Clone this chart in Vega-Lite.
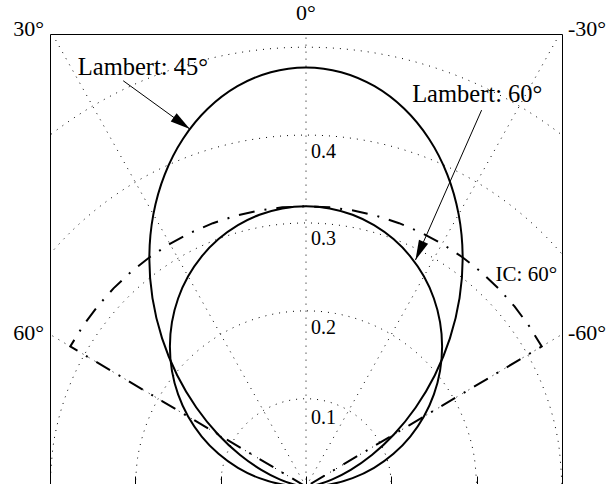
{
  "$schema": "https://vega.github.io/schema/vega-lite/v6.json",
  "width": 512,
  "height": 450,
  "padding": {"left": 50, "top": 34, "right": 47, "bottom": 0},
  "autosize": {"type": "none"},
  "background": "white",
  "config": {"view": {"stroke": null}, "font": "Liberation Serif"},
  "resolve": {"axis": {"x": "independent", "y": "independent"}},
  "datasets": {
    "circles": [
      {"r": 0.1, "x": -0.1, "y": 0}, {"r": 0.1, "x": -0.0985, "y": 0.0174}, {"r": 0.1, "x": -0.094, "y": 0.0342}, {"r": 0.1, "x": -0.0866, "y": 0.05}, {"r": 0.1, "x": -0.0766, "y": 0.0643}, {"r": 0.1, "x": -0.0643, "y": 0.0766}, {"r": 0.1, "x": -0.05, "y": 0.0866}, {"r": 0.1, "x": -0.0342, "y": 0.094}, {"r": 0.1, "x": -0.0174, "y": 0.0985}, {"r": 0.1, "x": 0, "y": 0.1}, {"r": 0.1, "x": 0.0174, "y": 0.0985}, {"r": 0.1, "x": 0.0342, "y": 0.094}, {"r": 0.1, "x": 0.05, "y": 0.0866}, {"r": 0.1, "x": 0.0643, "y": 0.0766}, {"r": 0.1, "x": 0.0766, "y": 0.0643}, {"r": 0.1, "x": 0.0866, "y": 0.05}, {"r": 0.1, "x": 0.094, "y": 0.0342}, {"r": 0.1, "x": 0.0985, "y": 0.0174}, {"r": 0.1, "x": 0.1, "y": 0},
      {"r": 0.2, "x": -0.2, "y": 0}, {"r": 0.2, "x": -0.197, "y": 0.0347}, {"r": 0.2, "x": -0.1879, "y": 0.0684}, {"r": 0.2, "x": -0.1732, "y": 0.1}, {"r": 0.2, "x": -0.1532, "y": 0.1286}, {"r": 0.2, "x": -0.1286, "y": 0.1532}, {"r": 0.2, "x": -0.1, "y": 0.1732}, {"r": 0.2, "x": -0.0684, "y": 0.1879}, {"r": 0.2, "x": -0.0347, "y": 0.197}, {"r": 0.2, "x": 0, "y": 0.2}, {"r": 0.2, "x": 0.0347, "y": 0.197}, {"r": 0.2, "x": 0.0684, "y": 0.1879}, {"r": 0.2, "x": 0.1, "y": 0.1732}, {"r": 0.2, "x": 0.1286, "y": 0.1532}, {"r": 0.2, "x": 0.1532, "y": 0.1286}, {"r": 0.2, "x": 0.1732, "y": 0.1}, {"r": 0.2, "x": 0.1879, "y": 0.0684}, {"r": 0.2, "x": 0.197, "y": 0.0347}, {"r": 0.2, "x": 0.2, "y": 0},
      {"r": 0.3, "x": -0.3, "y": 0}, {"r": 0.3, "x": -0.2954, "y": 0.0521}, {"r": 0.3, "x": -0.2819, "y": 0.1026}, {"r": 0.3, "x": -0.2598, "y": 0.15}, {"r": 0.3, "x": -0.2298, "y": 0.1928}, {"r": 0.3, "x": -0.1928, "y": 0.2298}, {"r": 0.3, "x": -0.15, "y": 0.2598}, {"r": 0.3, "x": -0.1026, "y": 0.2819}, {"r": 0.3, "x": -0.0521, "y": 0.2954}, {"r": 0.3, "x": 0, "y": 0.3}, {"r": 0.3, "x": 0.0521, "y": 0.2954}, {"r": 0.3, "x": 0.1026, "y": 0.2819}, {"r": 0.3, "x": 0.15, "y": 0.2598}, {"r": 0.3, "x": 0.1928, "y": 0.2298}, {"r": 0.3, "x": 0.2298, "y": 0.1928}, {"r": 0.3, "x": 0.2598, "y": 0.15}, {"r": 0.3, "x": 0.2819, "y": 0.1026}, {"r": 0.3, "x": 0.2954, "y": 0.0521}, {"r": 0.3, "x": 0.3, "y": 0},
      {"r": 0.4, "x": -0.4, "y": 0}, {"r": 0.4, "x": -0.3939, "y": 0.0695}, {"r": 0.4, "x": -0.3759, "y": 0.1368}, {"r": 0.4, "x": -0.3464, "y": 0.2}, {"r": 0.4, "x": -0.3064, "y": 0.2571}, {"r": 0.4, "x": -0.2571, "y": 0.3064}, {"r": 0.4, "x": -0.2, "y": 0.3464}, {"r": 0.4, "x": -0.1368, "y": 0.3759}, {"r": 0.4, "x": -0.0695, "y": 0.3939}, {"r": 0.4, "x": 0, "y": 0.4}, {"r": 0.4, "x": 0.0695, "y": 0.3939}, {"r": 0.4, "x": 0.1368, "y": 0.3759}, {"r": 0.4, "x": 0.2, "y": 0.3464}, {"r": 0.4, "x": 0.2571, "y": 0.3064}, {"r": 0.4, "x": 0.3064, "y": 0.2571}, {"r": 0.4, "x": 0.3464, "y": 0.2}, {"r": 0.4, "x": 0.3759, "y": 0.1368}, {"r": 0.4, "x": 0.3939, "y": 0.0695}, {"r": 0.4, "x": 0.4, "y": 0},
      {"r": 0.5, "x": -0.5, "y": 0}, {"r": 0.5, "x": -0.4924, "y": 0.0868}, {"r": 0.5, "x": -0.4698, "y": 0.171}, {"r": 0.5, "x": -0.433, "y": 0.25}, {"r": 0.5, "x": -0.383, "y": 0.3214}, {"r": 0.5, "x": -0.3214, "y": 0.383}, {"r": 0.5, "x": -0.25, "y": 0.433}, {"r": 0.5, "x": -0.171, "y": 0.4698}, {"r": 0.5, "x": -0.0868, "y": 0.4924}, {"r": 0.5, "x": 0, "y": 0.5}, {"r": 0.5, "x": 0.0868, "y": 0.4924}, {"r": 0.5, "x": 0.171, "y": 0.4698}, {"r": 0.5, "x": 0.25, "y": 0.433}, {"r": 0.5, "x": 0.3214, "y": 0.383}, {"r": 0.5, "x": 0.383, "y": 0.3214}, {"r": 0.5, "x": 0.433, "y": 0.25}, {"r": 0.5, "x": 0.4698, "y": 0.171}, {"r": 0.5, "x": 0.4924, "y": 0.0868}, {"r": 0.5, "x": 0.5, "y": 0}
    ],
    "spokes": [
      {"x": 0, "y": 0, "x2": 0, "y2": 0.7},
      {"x": 0, "y": 0, "x2": 0.35, "y2": 0.6062},
      {"x": 0, "y": 0, "x2": -0.35, "y2": 0.6062},
      {"x": 0, "y": 0, "x2": 0.6062, "y2": 0.35},
      {"x": 0, "y": 0, "x2": -0.6062, "y2": 0.35}
    ],
    "lam45": [
      {"i": 0, "x": 0, "y": 0}, {"i": 1, "x": -0.0036, "y": 0.0003}, {"i": 2, "x": -0.01416, "y": 0.0025}, {"i": 3, "x": -0.03087, "y": 0.00827}, {"i": 4, "x": -0.05243, "y": 0.01908}, {"i": 5, "x": -0.07721, "y": 0.036}, {"i": 6, "x": -0.10327, "y": 0.05963}, {"i": 7, "x": -0.12855, "y": 0.09001}, {"i": 8, "x": -0.15098, "y": 0.12669}, {"i": 9, "x": -0.16865, "y": 0.16864}, {"i": 10, "x": -0.17993, "y": 0.21443}, {"i": 11, "x": -0.18359, "y": 0.26219}, {"i": 12, "x": -0.17888, "y": 0.30982}, {"i": 13, "x": -0.16559, "y": 0.3551}, {"i": 14, "x": -0.14406, "y": 0.3958}, {"i": 15, "x": -0.11519, "y": 0.42988}, {"i": 16, "x": -0.08033, "y": 0.45559}, {"i": 17, "x": -0.04126, "y": 0.47157}, {"i": 18, "x": 0, "y": 0.477},
      {"i": 19, "x": 0.04126, "y": 0.47157}, {"i": 20, "x": 0.08033, "y": 0.45559}, {"i": 21, "x": 0.11519, "y": 0.42988}, {"i": 22, "x": 0.14406, "y": 0.3958}, {"i": 23, "x": 0.16559, "y": 0.3551}, {"i": 24, "x": 0.17888, "y": 0.30982}, {"i": 25, "x": 0.18359, "y": 0.26219}, {"i": 26, "x": 0.17993, "y": 0.21443}, {"i": 27, "x": 0.16865, "y": 0.16864}, {"i": 28, "x": 0.15098, "y": 0.12669}, {"i": 29, "x": 0.12855, "y": 0.09001}, {"i": 30, "x": 0.10327, "y": 0.05963}, {"i": 31, "x": 0.07721, "y": 0.036}, {"i": 32, "x": 0.05243, "y": 0.01908}, {"i": 33, "x": 0.03087, "y": 0.00827}, {"i": 34, "x": 0.01416, "y": 0.0025}, {"i": 35, "x": 0.0036, "y": 0.0003}, {"i": 36, "x": 0, "y": 0}
    ],
    "lam60": [
      {"i": 0, "x": 0, "y": 0}, {"i": 1, "x": -0.0277, "y": 0.00242}, {"i": 2, "x": -0.05455, "y": 0.00962}, {"i": 3, "x": -0.07975, "y": 0.02137}, {"i": 4, "x": -0.10252, "y": 0.03732}, {"i": 5, "x": -0.12218, "y": 0.05697}, {"i": 6, "x": -0.13813, "y": 0.07975}, {"i": 7, "x": -0.14988, "y": 0.10495}, {"i": 8, "x": -0.15708, "y": 0.1318}, {"i": 9, "x": -0.1595, "y": 0.1595}, {"i": 10, "x": -0.15708, "y": 0.1872}, {"i": 11, "x": -0.14988, "y": 0.21405}, {"i": 12, "x": -0.13813, "y": 0.23925}, {"i": 13, "x": -0.12218, "y": 0.26203}, {"i": 14, "x": -0.10252, "y": 0.28168}, {"i": 15, "x": -0.07975, "y": 0.29763}, {"i": 16, "x": -0.05455, "y": 0.30938}, {"i": 17, "x": -0.0277, "y": 0.31658}, {"i": 18, "x": 0, "y": 0.319},
      {"i": 19, "x": 0.0277, "y": 0.31658}, {"i": 20, "x": 0.05455, "y": 0.30938}, {"i": 21, "x": 0.07975, "y": 0.29763}, {"i": 22, "x": 0.10252, "y": 0.28168}, {"i": 23, "x": 0.12218, "y": 0.26203}, {"i": 24, "x": 0.13813, "y": 0.23925}, {"i": 25, "x": 0.14988, "y": 0.21405}, {"i": 26, "x": 0.15708, "y": 0.1872}, {"i": 27, "x": 0.1595, "y": 0.1595}, {"i": 28, "x": 0.15708, "y": 0.1318}, {"i": 29, "x": 0.14988, "y": 0.10495}, {"i": 30, "x": 0.13813, "y": 0.07975}, {"i": 31, "x": 0.12218, "y": 0.05697}, {"i": 32, "x": 0.10252, "y": 0.03732}, {"i": 33, "x": 0.07975, "y": 0.02137}, {"i": 34, "x": 0.05455, "y": 0.00962}, {"i": 35, "x": 0.0277, "y": 0.00242}, {"i": 36, "x": 0, "y": 0}
    ],
    "ic60": [
      {"i": 0, "x": 0, "y": 0}, {"i": 1, "x": -0.27626, "y": 0.1595}, {"i": 2, "x": -0.26131, "y": 0.18297}, {"i": 3, "x": -0.24437, "y": 0.20505}, {"i": 4, "x": -0.22557, "y": 0.22557}, {"i": 5, "x": -0.20505, "y": 0.24437}, {"i": 6, "x": -0.18297, "y": 0.26131}, {"i": 7, "x": -0.1595, "y": 0.27626}, {"i": 8, "x": -0.13482, "y": 0.28911}, {"i": 9, "x": -0.1091, "y": 0.29976}, {"i": 10, "x": -0.08256, "y": 0.30813}, {"i": 11, "x": -0.05539, "y": 0.31415}, {"i": 12, "x": -0.0278, "y": 0.31778}, {"i": 13, "x": 0, "y": 0.319},
      {"i": 14, "x": 0.0278, "y": 0.31778}, {"i": 15, "x": 0.05539, "y": 0.31415}, {"i": 16, "x": 0.08256, "y": 0.30813}, {"i": 17, "x": 0.1091, "y": 0.29976}, {"i": 18, "x": 0.13482, "y": 0.28911}, {"i": 19, "x": 0.1595, "y": 0.27626}, {"i": 20, "x": 0.18297, "y": 0.26131}, {"i": 21, "x": 0.20505, "y": 0.24437}, {"i": 22, "x": 0.22557, "y": 0.22557}, {"i": 23, "x": 0.24437, "y": 0.20505}, {"i": 24, "x": 0.26131, "y": 0.18297}, {"i": 25, "x": 0.27626, "y": 0.1595}, {"i": 26, "x": 0, "y": 0}
    ],
    "arrows": [
      {"x": -0.2142, "y": 0.4618, "x2": -0.1361, "y2": 0.4068},
      {"x": 0.2058, "y": 0.4284, "x2": 0.1283, "y2": 0.2578}
    ]
  },
  "layer": [
    {
      "data": {"name": "circles"},
      "mark": {"type": "line", "clip": true, "interpolate": "catmull-rom", "color": "black", "strokeWidth": 1, "strokeDash": [1, 6]},
      "encoding": {
        "x": {"field": "x", "type": "quantitative", "scale": {"domain": [-0.3, 0.3], "nice": false, "zero": false}, "axis": {"orient": "top", "domain": true, "domainColor": "black", "domainWidth": 1, "ticks": false, "labels": false, "grid": false, "title": null}},
        "y": {"field": "y", "type": "quantitative", "scale": {"domain": [0.003, 0.515], "nice": false, "zero": false}, "axis": {"orient": "left", "domain": true, "domainColor": "black", "domainWidth": 1, "ticks": false, "labels": false, "grid": false, "title": null}},
        "detail": {"field": "r", "type": "nominal"}
      }
    },
    {
      "data": {"name": "spokes"},
      "mark": {"type": "rule", "clip": true, "color": "black", "strokeWidth": 1, "strokeDash": [1, 6]},
      "encoding": {
        "x": {"field": "x", "type": "quantitative", "scale": {"domain": [-0.3, 0.3], "nice": false, "zero": false}, "axis": {"orient": "bottom", "domain": false, "ticks": true, "tickSize": -8, "tickColor": "black", "tickWidth": 1, "values": [-0.3, -0.2, -0.1, 0, 0.1, 0.2, 0.3], "labels": false, "grid": false, "title": null}},
        "y": {"field": "y", "type": "quantitative", "scale": {"domain": [0.003, 0.515], "nice": false, "zero": false}, "axis": {"orient": "right", "domain": true, "domainColor": "black", "domainWidth": 1, "ticks": false, "labels": false, "grid": false, "title": null}},
        "x2": {"field": "x2"},
        "y2": {"field": "y2"}
      }
    },
    {
      "data": {"name": "lam45"},
      "mark": {"type": "line", "clip": true, "interpolate": "catmull-rom", "color": "black", "strokeWidth": 2},
      "encoding": {
        "x": {"field": "x", "type": "quantitative", "scale": {"domain": [-0.3, 0.3], "nice": false, "zero": false}, "axis": null},
        "y": {"field": "y", "type": "quantitative", "scale": {"domain": [0.003, 0.515], "nice": false, "zero": false}, "axis": null},
        "order": {"field": "i", "type": "quantitative"}
      }
    },
    {
      "data": {"name": "lam60"},
      "mark": {"type": "line", "clip": true, "interpolate": "catmull-rom", "color": "black", "strokeWidth": 2},
      "encoding": {
        "x": {"field": "x", "type": "quantitative", "scale": {"domain": [-0.3, 0.3], "nice": false, "zero": false}, "axis": null},
        "y": {"field": "y", "type": "quantitative", "scale": {"domain": [0.003, 0.515], "nice": false, "zero": false}, "axis": null},
        "order": {"field": "i", "type": "quantitative"}
      }
    },
    {
      "data": {"name": "ic60"},
      "mark": {"type": "line", "clip": true, "color": "black", "strokeWidth": 2, "strokeDash": [16, 10, 2, 10]},
      "encoding": {
        "x": {"field": "x", "type": "quantitative", "scale": {"domain": [-0.3, 0.3], "nice": false, "zero": false}, "axis": null},
        "y": {"field": "y", "type": "quantitative", "scale": {"domain": [0.003, 0.515], "nice": false, "zero": false}, "axis": null},
        "order": {"field": "i", "type": "quantitative"}
      }
    },
    {
      "data": {"name": "arrows"},
      "mark": {"type": "rule", "color": "black", "strokeWidth": 1},
      "encoding": {
        "x": {"field": "x", "type": "quantitative", "scale": {"domain": [-0.3, 0.3], "nice": false, "zero": false}, "axis": null},
        "y": {"field": "y", "type": "quantitative", "scale": {"domain": [0.003, 0.515], "nice": false, "zero": false}, "axis": null},
        "x2": {"field": "x2"},
        "y2": {"field": "y2"}
      }
    },
    {
      "data": {"values": [{"x": -0.1361, "y": 0.4068}]},
      "mark": {"type": "point", "shape": "M0,0L0.5,2L-0.5,2Z", "filled": true, "color": "black", "opacity": 1, "size": 400, "angle": 126},
      "encoding": {
        "x": {"field": "x", "type": "quantitative", "scale": {"domain": [-0.3, 0.3], "nice": false, "zero": false}, "axis": null},
        "y": {"field": "y", "type": "quantitative", "scale": {"domain": [0.003, 0.515], "nice": false, "zero": false}, "axis": null}
      }
    },
    {
      "data": {"values": [{"x": 0.1283, "y": 0.2578}]},
      "mark": {"type": "point", "shape": "M0,0L0.5,2L-0.5,2Z", "filled": true, "color": "black", "opacity": 1, "size": 400, "angle": 203.75},
      "encoding": {
        "x": {"field": "x", "type": "quantitative", "scale": {"domain": [-0.3, 0.3], "nice": false, "zero": false}, "axis": null},
        "y": {"field": "y", "type": "quantitative", "scale": {"domain": [0.003, 0.515], "nice": false, "zero": false}, "axis": null}
      }
    },
    {
      "data": {"values": [{"x": 0, "y": 0.078, "t": "0.1"}, {"x": 0, "y": 0.181, "t": "0.2"}, {"x": 0, "y": 0.282, "t": "0.3"}, {"x": 0, "y": 0.381, "t": "0.4"}]},
      "mark": {"type": "text", "align": "left", "baseline": "middle", "dx": 5, "fontSize": 20, "font": "Liberation Serif", "color": "black"},
      "encoding": {
        "x": {"field": "x", "type": "quantitative", "scale": {"domain": [-0.3, 0.3], "nice": false, "zero": false}, "axis": null},
        "y": {"field": "y", "type": "quantitative", "scale": {"domain": [0.003, 0.515], "nice": false, "zero": false}, "axis": null},
        "text": {"field": "t"}
      }
    },
    {
      "data": {"values": [{"x": -0.3, "y": 0.5126, "t": "30°"}, {"x": -0.3, "y": 0.1668, "t": "60°"}]},
      "mark": {"type": "text", "align": "right", "baseline": "alphabetic", "dx": -6, "fontSize": 22, "font": "Liberation Serif", "color": "black"},
      "encoding": {
        "x": {"field": "x", "type": "quantitative", "scale": {"domain": [-0.3, 0.3], "nice": false, "zero": false}, "axis": null},
        "y": {"field": "y", "type": "quantitative", "scale": {"domain": [0.003, 0.515], "nice": false, "zero": false}, "axis": null},
        "text": {"field": "t"}
      }
    },
    {
      "data": {"values": [{"x": 0.3, "y": 0.5126, "t": "-30°"}, {"x": 0.3, "y": 0.1668, "t": "-60°"}]},
      "mark": {"type": "text", "align": "left", "baseline": "alphabetic", "dx": 6, "fontSize": 22, "font": "Liberation Serif", "color": "black"},
      "encoding": {
        "x": {"field": "x", "type": "quantitative", "scale": {"domain": [-0.3, 0.3], "nice": false, "zero": false}, "axis": null},
        "y": {"field": "y", "type": "quantitative", "scale": {"domain": [0.003, 0.515], "nice": false, "zero": false}, "axis": null},
        "text": {"field": "t"}
      }
    },
    {
      "data": {"values": [{"x": 0, "y": 0.531, "t": "0°"}]},
      "mark": {"type": "text", "align": "center", "baseline": "alphabetic", "fontSize": 22, "font": "Liberation Serif", "color": "black"},
      "encoding": {
        "x": {"field": "x", "type": "quantitative", "scale": {"domain": [-0.3, 0.3], "nice": false, "zero": false}, "axis": null},
        "y": {"field": "y", "type": "quantitative", "scale": {"domain": [0.003, 0.515], "nice": false, "zero": false}, "axis": null},
        "text": {"field": "t"}
      }
    },
    {
      "data": {"values": [{"x": -0.2674, "y": 0.4683, "t": "Lambert: 45°"}, {"x": 0.1244, "y": 0.4379, "t": "Lambert: 60°"}]},
      "mark": {"type": "text", "align": "left", "baseline": "alphabetic", "fontSize": 24.5, "font": "Liberation Serif", "color": "black"},
      "encoding": {
        "x": {"field": "x", "type": "quantitative", "scale": {"domain": [-0.3, 0.3], "nice": false, "zero": false}, "axis": null},
        "y": {"field": "y", "type": "quantitative", "scale": {"domain": [0.003, 0.515], "nice": false, "zero": false}, "axis": null},
        "text": {"field": "t"}
      }
    },
    {
      "data": {"values": [{"x": 0.2222, "y": 0.2339, "t": "IC: 60°"}]},
      "mark": {"type": "text", "align": "left", "baseline": "alphabetic", "fontSize": 21, "font": "Liberation Serif", "color": "black"},
      "encoding": {
        "x": {"field": "x", "type": "quantitative", "scale": {"domain": [-0.3, 0.3], "nice": false, "zero": false}, "axis": null},
        "y": {"field": "y", "type": "quantitative", "scale": {"domain": [0.003, 0.515], "nice": false, "zero": false}, "axis": null},
        "text": {"field": "t"}
      }
    }
  ]
}
